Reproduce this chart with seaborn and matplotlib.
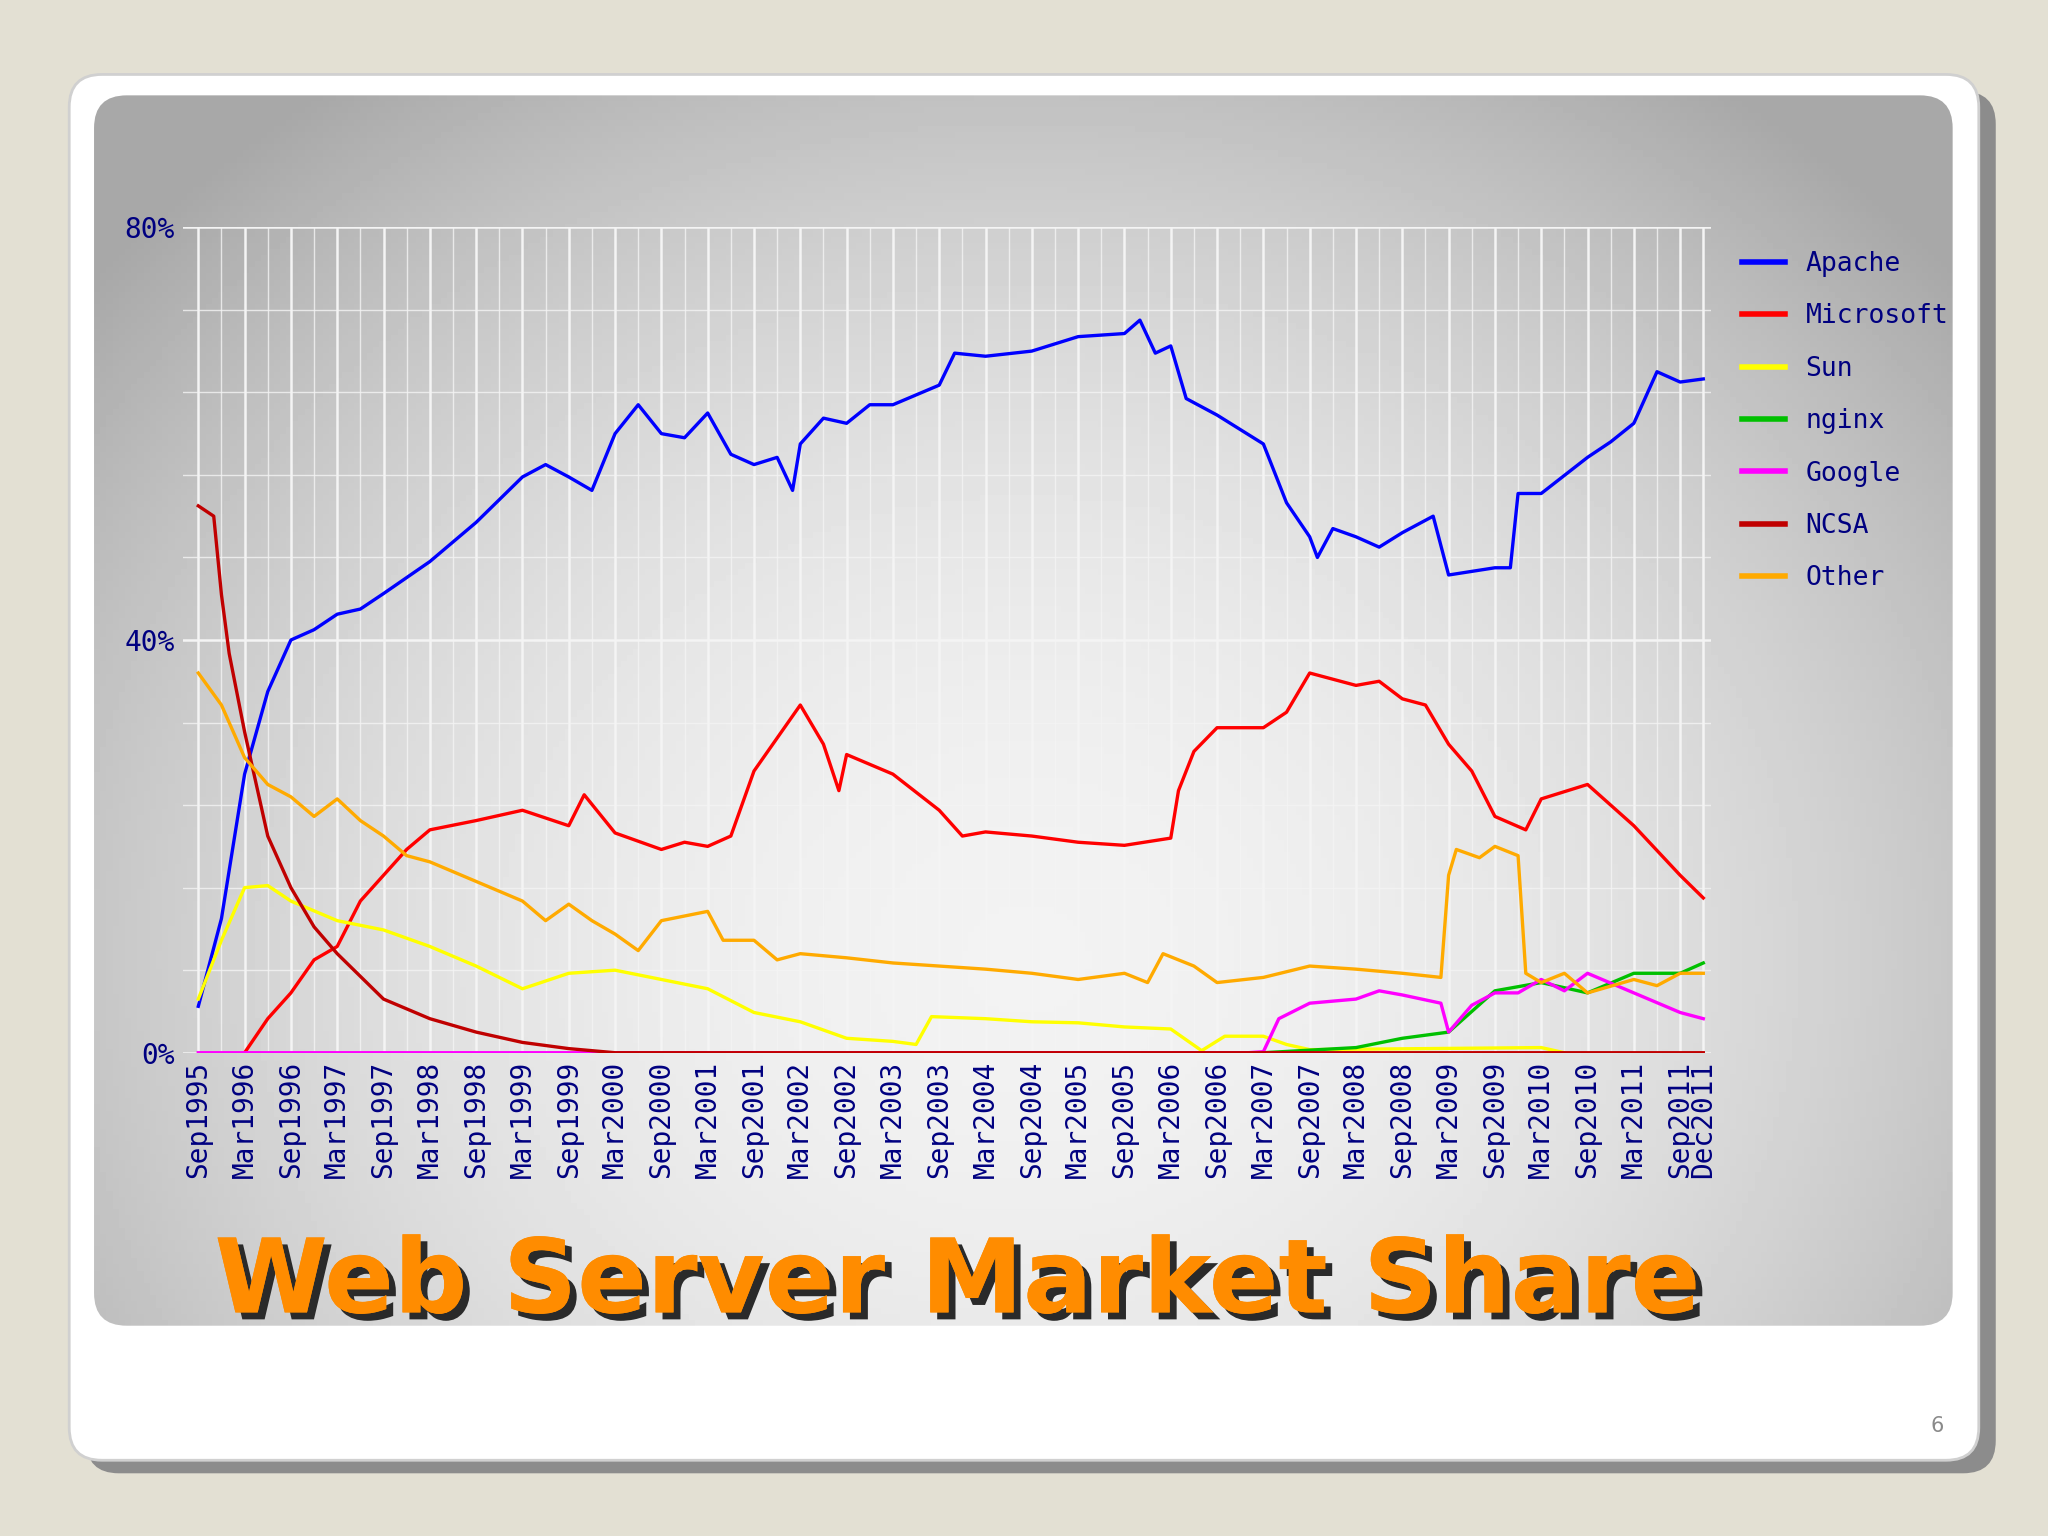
import matplotlib.pyplot as plt
import matplotlib.patheffects as pe
from matplotlib.patches import FancyBboxPatch
import seaborn as sns
import pandas as pd
import numpy as np

# values (percent), each series with its own dates
apache_dates = ["1995-09", "1995-12", "1996-03", "1996-06", "1996-09", "1996-12", "1997-03", "1997-06",
                "1997-09", "1998-03", "1998-09", "1999-03", "1999-06", "1999-09", "1999-12", "2000-03",
                "2000-06", "2000-09", "2000-12", "2001-03", "2001-06", "2001-09", "2001-12", "2002-02",
                "2002-03", "2002-06", "2002-09", "2002-12", "2003-03", "2003-09", "2003-11", "2004-03",
                "2004-09", "2005-03", "2005-09", "2005-11", "2006-01", "2006-03", "2006-05", "2006-09",
                "2007-03", "2007-06", "2007-09", "2007-10", "2007-12", "2008-03", "2008-06", "2008-09",
                "2009-01", "2009-03", "2009-09", "2009-11", "2009-12", "2010-03", "2010-09", "2010-12",
                "2011-03", "2011-06", "2011-09", "2011-12"]
apache = [4.5, 13, 27, 35, 40, 41, 42.5, 43, 44.5, 47.6, 51.4, 55.8, 57, 55.8, 54.5, 60,
          62.8, 60, 59.6, 62, 58, 57, 57.7, 54.5, 59, 61.5, 61, 62.8, 62.8, 64.7, 67.8, 67.5,
          68, 69.4, 69.7, 71, 67.8, 68.5, 63.4, 61.8, 59, 53.3, 50, 48, 50.8, 50, 49, 50.4,
          52, 46.3, 47, 47, 54.2, 54.2, 57.7, 59.2, 61, 66, 65, 65.3]

microsoft_dates = ["1996-03", "1996-06", "1996-09", "1996-12", "1997-03", "1997-06", "1997-09", "1997-12",
                   "1998-03", "1998-09", "1999-03", "1999-09", "1999-11", "2000-03", "2000-09", "2000-12",
                   "2001-03", "2001-06", "2001-09", "2001-12", "2002-03", "2002-06", "2002-08", "2002-09",
                   "2003-03", "2003-09", "2003-12", "2004-03", "2004-09", "2005-03", "2005-09", "2006-03",
                   "2006-04", "2006-06", "2006-09", "2007-03", "2007-06", "2007-09", "2008-03", "2008-06",
                   "2008-09", "2008-12", "2009-03", "2009-06", "2009-09", "2010-01", "2010-03", "2010-09",
                   "2011-03", "2011-09", "2011-12"]
microsoft = [0, 3.3, 5.8, 9, 10.3, 14.7, 17.2, 19.7, 21.6, 22.5, 23.5, 22, 25, 21.3, 19.7, 20.4,
             20, 21, 27.3, 30.5, 33.7, 29.9, 25.4, 28.9, 27, 23.5, 21, 21.4, 21, 20.4, 20.1, 20.8,
             25.4, 29.2, 31.5, 31.5, 33, 36.8, 35.6, 36, 34.3, 33.7, 29.9, 27.3, 22.9, 21.6, 24.6, 26,
             22, 17.2, 15]

sun_dates = ["1995-09", "1995-12", "1996-03", "1996-06", "1996-09", "1997-03", "1997-09", "1998-03",
             "1998-09", "1999-03", "1999-09", "2000-03", "2000-09", "2001-03", "2001-09", "2002-03",
             "2002-09", "2003-03", "2003-06", "2003-08", "2004-03", "2004-09", "2005-03", "2005-09",
             "2006-03", "2006-07", "2006-10", "2007-03", "2007-06", "2007-09", "2010-03", "2010-06"]
sun = [5.2, 10.9, 16, 16.2, 14.7, 12.8, 11.9, 10.3, 8.4, 6.2, 7.7, 8, 7.1, 6.2, 3.9, 3,
       1.4, 1.1, 0.8, 3.5, 3.3, 3, 2.9, 2.5, 2.3, 0.2, 1.6, 1.6, 0.8, 0.3, 0.5, 0]

nginx_dates = ["2007-03", "2008-03", "2008-09", "2009-03", "2009-09", "2010-03", "2010-09",
               "2011-03", "2011-09", "2011-12"]
nginx = [0, 0.5, 1.4, 2, 6, 6.8, 5.8, 7.7, 7.7, 8.7]

google_dates = ["1995-09", "2007-01", "2007-03", "2007-05", "2007-09", "2008-03", "2008-06", "2008-09",
                "2009-02", "2009-03", "2009-06", "2009-09", "2009-12", "2010-03", "2010-06", "2010-09",
                "2011-03", "2011-09", "2011-12"]
google = [0, 0, 0.1, 3.3, 4.8, 5.2, 6, 5.6, 4.8, 2, 4.6, 5.8, 5.8, 7.1, 6, 7.7, 5.8, 3.9, 3.3]

ncsa_dates = ["1995-09", "1995-11", "1995-12", "1996-01", "1996-03", "1996-06", "1996-09", "1996-12",
              "1997-03", "1997-09", "1998-03", "1998-09", "1999-03", "1999-09", "2000-03", "2011-12"]
ncsa = [53, 52, 44.4, 38.7, 31.1, 21, 16, 12.2, 9.6, 5.2, 3.3, 2, 1, 0.4, 0, 0]

other_dates = ["1995-09", "1995-12", "1996-03", "1996-06", "1996-09", "1996-12", "1997-03", "1997-06",
               "1997-09", "1997-12", "1998-03", "1998-09", "1999-03", "1999-06", "1999-09", "1999-12",
               "2000-03", "2000-06", "2000-09", "2001-03", "2001-05", "2001-09", "2001-12", "2002-03",
               "2002-09", "2003-03", "2003-09", "2004-03", "2004-09", "2005-03", "2005-09", "2005-12",
               "2006-02", "2006-06", "2006-09", "2007-03", "2007-09", "2008-03", "2008-09", "2009-02",
               "2009-03", "2009-04", "2009-07", "2009-09", "2009-12", "2010-01", "2010-03", "2010-06",
               "2010-09", "2011-03", "2011-06", "2011-09", "2011-12"]
other = [36.8, 33.7, 28.6, 26, 24.8, 22.9, 24.6, 22.5, 21, 19.1, 18.5, 16.6, 14.7, 12.8, 14.4, 12.8,
         11.5, 9.9, 12.8, 13.7, 10.9, 10.9, 9, 9.6, 9.2, 8.7, 8.4, 8.1, 7.7, 7.1, 7.7, 6.8,
         9.6, 8.4, 6.8, 7.3, 8.4, 8.1, 7.7, 7.3, 17.2, 19.7, 18.9, 20, 19.1, 7.7, 6.8, 7.7,
         5.8, 7.1, 6.5, 7.7, 7.7]

series_names = ["Apache", "Microsoft", "Sun", "nginx", "Google", "NCSA", "Other"]
series_colors = ["#0000ff", "#ff0000", "#ffff00", "#00c000", "#ff00ff", "#c00000", "#ffaa00"]
tick_labels = [f"{m}{y}" for y in range(1995, 2012) for m in ("Mar", "Sep")][1:] + ["Dec2011"]


def month_index(s):
    y, m = s.split("-")
    return (int(y) - 1995) * 12 + int(m) - 9


frames = []
for name, dates, vals in zip(series_names,
                             [apache_dates, microsoft_dates, sun_dates, nginx_dates, google_dates, ncsa_dates, other_dates],
                             [apache, microsoft, sun, nginx, google, ncsa, other]):
    frames.append(pd.DataFrame({"t": [month_index(d) for d in dates], "share": vals, "server": name}))
df = pd.concat(frames, ignore_index=True)

W, H = 1568, 1176
fig = plt.figure(figsize=(20.48, 15.36), dpi=100)
fig.patch.set_facecolor("#e3e0d3")

# slide card + shadow + gradient panel
bg = fig.add_axes([0, 0, 1, 1])
bg.set_xlim(0, W)
bg.set_ylim(H, 0)
bg.axis("off")
bg.add_patch(FancyBboxPatch((66, 70), 1462, 1058, boxstyle="round,pad=0,rounding_size=25",
                            fc="#8c8c8c", ec="none", zorder=1))
bg.add_patch(FancyBboxPatch((53, 57), 1462, 1061, boxstyle="round,pad=0,rounding_size=25",
                            fc="white", ec="#d0d0d0", lw=2, zorder=2))
panel = FancyBboxPatch((72, 73), 1423, 942, boxstyle="round,pad=0,rounding_size=25",
                       fc="none", ec="none", zorder=3)
bg.add_patch(panel)
yy, xx = np.mgrid[0:200, 0:300]
r = np.sqrt(((xx - 150) / 170) ** 2 + ((yy - 140) / 150) ** 2)
grad = np.clip(0.95 - 0.22 * r ** 2, 0.66, 0.95)
im = bg.imshow(grad, cmap="gray", vmin=0, vmax=1, extent=(72, 1495, 1015, 73), zorder=3, aspect="auto")
im.set_clip_path(panel)
bg.text(1488, 1092, "6", fontsize=15, color="#8a8a8a", ha="right", va="center", zorder=4)
bg.text(733, 983, "Web Server Market Share", fontsize=74, fontweight="bold", color="#ff8c00",
        ha="center", va="center", zorder=5,
        path_effects=[pe.withSimplePatchShadow(offset=(5, -5), shadow_rgbFace="#2a2a2a", alpha=1.0), pe.Normal()])

ax = fig.add_axes([140 / W, 1 - 806 / H, 1170 / W, (806 - 174) / H])
ax.set_facecolor("none")
sns.lineplot(data=df, x="t", y="share", hue="server", hue_order=series_names,
             palette=series_colors, estimator=None, sort=True, linewidth=2.4, ax=ax)

mono = "DejaVu Sans Mono"
navy = "#000080"
ax.set_xlim(-2, 196)
ax.set_ylim(0, 80)
ax.set_xticks(list(range(0, 193, 6)) + [195])
ax.set_xticklabels(tick_labels, rotation=90, fontsize=20, family=mono, color=navy)
ax.set_xticks(range(0, 196, 3), minor=True)
ax.set_yticks([0, 40, 80])
ax.set_yticklabels(["0%", "40%", "80%"], fontsize=20, family=mono, color=navy)
ax.set_yticks(range(0, 81, 8), minor=True)
ax.tick_params(length=0, which="both", pad=6)
ax.grid(True, which="major", color="#f4f4f4", linewidth=1.8)
ax.grid(True, which="minor", color="#f4f4f4", linewidth=1.0, alpha=0.8)
ax.set_axisbelow(True)
for s in ax.spines.values():
    s.set_visible(False)
ax.set_xlabel("")
ax.set_ylabel("")

leg = ax.legend(loc="upper left", bbox_to_anchor=(1.005, 1.0), frameon=False,
                prop={"family": mono, "size": 19}, handlelength=1.6, labelspacing=1.0)
for t in leg.get_texts():
    t.set_color(navy)
for h in leg.get_lines():
    h.set_linewidth(4)

fig.savefig("out.png", dpi=100, facecolor=fig.get_facecolor())
